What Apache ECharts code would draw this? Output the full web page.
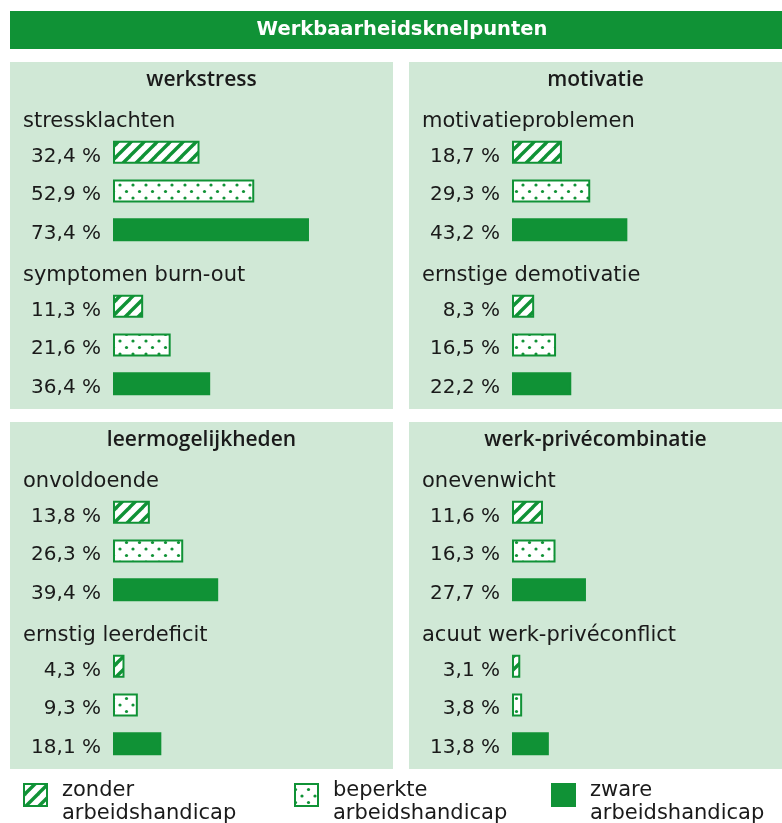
<!DOCTYPE html>
<html lang="nl">
<head>
    <meta charset="UTF-8">
    <title>Werkbaarheidsknelpunten</title>
    <script src="https://cdn.jsdelivr.net/npm/echarts@6/dist/echarts.min.js"></script>
    <style>
        html, body { margin: 0; padding: 0; background: #ffffff; }
    </style>
</head>
<body>
    <div id="chart" style="width: 782px; height: 823px;"></div>

    <script>
        // data
        const panelTitles = ['werkstress', 'motivatie', 'leermogelijkheden', 'werk-privécombinatie'];
        const groupNames = ['stressklachten', 'symptomen burn-out', 'motivatieproblemen', 'ernstige demotivatie',
            'onvoldoende', 'ernstig leerdeficit', 'onevenwicht', 'acuut werk-privéconflict'];
        const zonder = [32.4, 11.3, 18.7, 8.3, 13.8, 4.3, 11.6, 3.1];
        const beperkte = [52.9, 21.6, 29.3, 16.5, 26.3, 9.3, 16.3, 3.8];
        const zware = [73.4, 36.4, 43.2, 22.2, 39.4, 18.1, 27.7, 13.8];
        const legendNames = ['zonder\narbeidshandicap', 'beperkte\narbeidshandicap', 'zware\narbeidshandicap'];

        const GREEN = '#109236';
        const PANEL = '#d0e8d6';
        const FONT = '"DejaVu Sans", sans-serif';
        const HEAD = '"Open Sans", sans-serif';

        // fill patterns
        function hatchCanvas() {
            const c = document.createElement('canvas');
            c.width = 13; c.height = 13;
            const ctx = c.getContext('2d');
            ctx.fillStyle = '#fff';
            ctx.fillRect(0, 0, 13, 13);
            ctx.strokeStyle = GREEN;
            ctx.lineWidth = 3.4;
            [-13, 0, 13].forEach(o => {
                ctx.beginPath();
                ctx.moveTo(o - 1, 14);
                ctx.lineTo(o + 14, -1);
                ctx.stroke();
            });
            return c;
        }
        function dotCanvas() {
            const c = document.createElement('canvas');
            c.width = 13; c.height = 13;
            const ctx = c.getContext('2d');
            ctx.fillStyle = '#fff';
            ctx.fillRect(0, 0, 13, 13);
            ctx.fillStyle = GREEN;
            [[3, 3], [9.5, 9.5]].forEach(p => {
                ctx.beginPath();
                ctx.arc(p[0], p[1], 1.6, 0, Math.PI * 2);
                ctx.fill();
            });
            return c;
        }
        const fills = [
            { image: hatchCanvas(), repeat: 'repeat' },
            { image: dotCanvas(), repeat: 'repeat' },
            GREEN
        ];

        const chart = echarts.init(document.getElementById('chart'));

        const panelX = [10, 409, 10, 409];
        const panelY = [62, 62, 422, 422];
        const panelW = [383, 373, 383, 373];
        const PANEL_H = 347;

        const grids = [], xAxes = [], yAxes = [], series = [];
        const graphics = [];

        graphics.push({ type: 'rect', shape: { x: 10, y: 11, width: 772, height: 38 }, style: { fill: GREEN }, z: 0 });
        graphics.push({
            type: 'text', x: 402, y: 30, z: 2,
            style: { text: 'Werkbaarheidsknelpunten', fill: '#fff', font: 'bold 19.5px ' + FONT, align: 'center', verticalAlign: 'middle' }
        });

        panelTitles.forEach((t, p) => {
            graphics.push({ type: 'rect', shape: { x: panelX[p], y: panelY[p], width: panelW[p], height: PANEL_H }, style: { fill: PANEL }, z: 0 });
            graphics.push({
                type: 'text', x: panelX[p] + panelW[p] / 2, y: panelY[p] + 18, z: 2,
                style: { text: t, fill: '#1a1a1a', font: '600 21px ' + HEAD, align: 'center', verticalAlign: 'middle' }
            });
        });

        groupNames.forEach((name, g) => {
            const p = Math.floor(g / 2);
            const sub = g % 2;
            const top = panelY[p] + 71 + sub * 154;
            const left = panelX[p] + 103;
            graphics.push({
                type: 'text', x: panelX[p] + 13, y: panelY[p] + 60 + sub * 154, z: 2,
                style: { text: name, fill: '#1a1a1a', font: '21px ' + FONT, align: 'left', verticalAlign: 'middle' }
            });
            grids.push({ left: left, top: top, width: 267, height: 116 });
            xAxes.push({ type: 'value', gridIndex: g, min: 0, max: 100, show: false });
            yAxes.push({ type: 'category', gridIndex: g, inverse: true, show: false, data: ['zonder', 'beperkte', 'zware'] });
            const vals = [zonder[g], beperkte[g], zware[g]];
            series.push({
                type: 'bar',
                xAxisIndex: g,
                yAxisIndex: g,
                barWidth: 23,
                data: vals.map((v, i) => ({
                    value: v,
                    itemStyle: { color: fills[i], borderColor: GREEN, borderWidth: 2 }
                })),
                label: {
                    show: true,
                    position: 'left',
                    distance: 12,
                    offset: [0, 4],
                    color: '#1a1a1a',
                    fontSize: 20,
                    fontFamily: FONT,
                    formatter: d => d.value.toFixed(1).replace('.', ',') + ' %'
                }
            });
        });

        // legend
        const legX = [23, 294, 551];
        legendNames.forEach((n, i) => {
            graphics.push({
                type: 'rect', shape: { x: legX[i] + 1, y: 784, width: 23, height: 22 }, z: 2,
                style: { fill: fills[i], stroke: GREEN, lineWidth: 2 }
            });
            graphics.push({
                type: 'text', x: legX[i] + 39, y: 779, z: 2,
                style: { text: n, fill: '#1a1a1a', font: '21px ' + FONT, lineHeight: 23, align: 'left', verticalAlign: 'top' }
            });
        });

        chart.setOption({
            animation: false,
            grid: grids,
            xAxis: xAxes,
            yAxis: yAxes,
            series: series,
            graphic: graphics
        });
    </script>
</body>
</html>
